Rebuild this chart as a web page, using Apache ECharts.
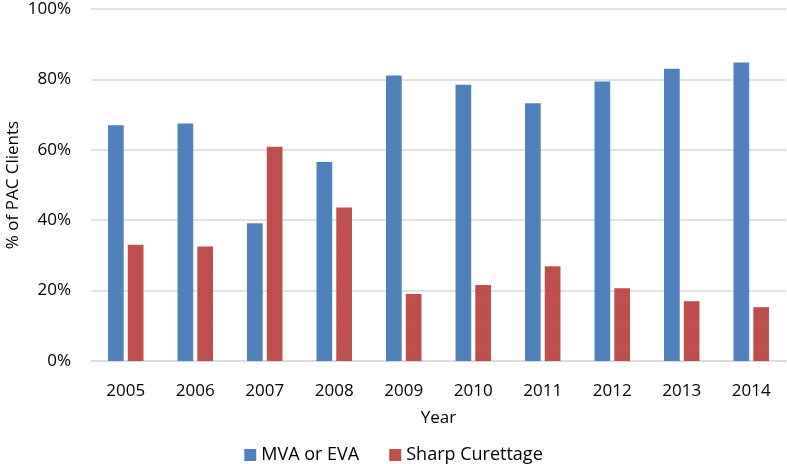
<!DOCTYPE html>
<html><head><meta charset="utf-8">
<script src="https://cdn.jsdelivr.net/npm/echarts@6/dist/echarts.min.js"></script>
<style>html,body{margin:0;padding:0;background:#fff}#c{width:787px;height:464px}</style>
</head><body><div id="c"></div>
<script>
const years = ['2005','2006','2007','2008','2009','2010','2011','2012','2013','2014'];
const mvaEva = [67.0, 67.5, 39.1, 56.5, 81.1, 78.5, 73.2, 79.4, 83.0, 84.8];
const sharpCurettage = [33.0, 32.5, 60.9, 43.6, 19.0, 21.6, 26.9, 20.7, 17.0, 15.3];
const seriesNames = ['MVA or EVA', 'Sharp Curettage'];
const font = '"Open Sans", "Liberation Sans", sans-serif';
const chart = echarts.init(document.getElementById('c'));
chart.setOption({
  animation: false,
  backgroundColor: '#fff',
  grid: { left: 91, right: 1, top: 9, bottom: 103, containLabel: false, outerBoundsMode: 'none' },
  legend: {
    data: seriesNames, top: 441, left: 'center', itemWidth: 12, itemHeight: 12, itemGap: 30,
    icon: 'rect',
    textStyle: { fontFamily: font, fontSize: 18, color: '#000' }
  },
  xAxis: {
    type: 'category', data: years,
    name: 'Year', nameLocation: 'middle', nameGap: 49, nameMoveOverlap: false,
    nameTextStyle: { fontFamily: font, fontSize: 17, color: '#000' },
    axisLine: { lineStyle: { color: '#d9d9d9', width: 1.5 } },
    axisTick: { show: false },
    axisLabel: { fontFamily: font, fontSize: 17, color: '#000', margin: 22 }
  },
  yAxis: {
    type: 'value', min: 0, max: 100, interval: 20,
    name: '% of PAC Clients', nameLocation: 'middle', nameGap: 69, nameRotate: 90, nameMoveOverlap: false,
    nameTextStyle: { fontFamily: font, fontSize: 17, color: '#000' },
    axisLabel: { formatter: '{value}%', fontFamily: font, fontSize: 17, color: '#000', margin: 20 },
    splitLine: { lineStyle: { color: '#d9d9d9', width: 1.5 } },
    axisLine: { show: false }, axisTick: { show: false }
  },
  series: [
    { name: seriesNames[0], type: 'bar', data: mvaEva, barWidth: '22.6%', barGap: '26%',
      itemStyle: { color: '#4F81BD' } },
    { name: seriesNames[1], type: 'bar', data: sharpCurettage, barWidth: '22.6%', barGap: '26%',
      itemStyle: { color: '#C0504D', decal: { symbol: 'circle', symbolSize: 0.25, dashArrayX: [3, 0], dashArrayY: [3, 0], color: 'rgba(90,20,20,0.35)' } } }
  ]
});
</script></body></html>
